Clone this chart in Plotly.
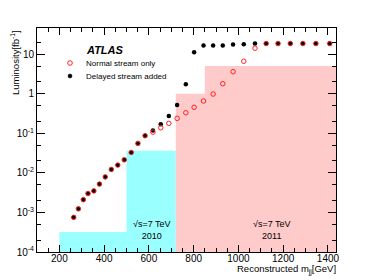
import plotly.graph_objects as go

# ---- data ----
mass = [264, 285, 307, 328, 354, 379, 405, 432, 461, 490, 521, 551, 583, 618,
        653, 689, 726, 765, 802, 844, 887, 930, 976, 1024, 1074, 1124, 1177,
        1232, 1288, 1346, 1408]
lumi_delayed = [7.5e-4, 1.23e-3, 2.1e-3, 3.0e-3, 3.5e-3, 5.2e-3, 7.9e-3, 0.0122,
                0.0157, 0.0213, 0.0328, 0.0555, 0.0865, 0.118, 0.168, 0.272,
                0.518, 1.73, 11.2, 16.4, 16.4, 16.4, 17.4, 17.8, 18.5, 18.5,
                18.5, 18.5, 18.5, 18.5, 18.5]
lumi_normal = [7.5e-4, 1.23e-3, 2.1e-3, 3.0e-3, 3.5e-3, 5.2e-3, 7.9e-3, 0.0122,
               0.0157, 0.0213, 0.0328, 0.0555, 0.0865, 0.107, 0.138, 0.178,
               0.238, 0.33, 0.453, 0.653, 0.98, 1.79, 3.6, 6.6, 14.1, 18.5,
               18.5, 18.5, 18.5, 18.5, 18.5]

# 2010 trigger-threshold luminosity steps (edges, values)
edges_2010 = [200, 500, 720]
lumi_2010 = [3.2e-4, 0.036]
# 2011 steps
edges_2011 = [720, 850, 1436]
lumi_2011 = [1.0, 5.0]

x_range = [100, 1436]
y_floor = 1e-4
y_ticks = [1e-4, 1e-3, 1e-2, 1e-1, 1, 10]
y_ticktext = ["10<sup>-4</sup>", "10<sup>-3</sup>", "10<sup>-2</sup>",
              "10<sup>-1</sup>", "1", "10"]


def step_polygon(edges, vals, floor):
    xs = [edges[0]]
    ys = [floor]
    for i, v in enumerate(vals):
        xs += [edges[i], edges[i + 1]]
        ys += [v, v]
    xs += [edges[-1], edges[0]]
    ys += [floor, floor]
    return xs, ys


FONT = "Liberation Sans, Arial, Helvetica, sans-serif"

fig = go.Figure()

x10, y10 = step_polygon(edges_2010, lumi_2010, y_floor)
fig.add_trace(go.Scatter(x=x10, y=y10, mode="lines", fill="toself",
                         fillcolor="#99ffff", line=dict(width=0),
                         hoverinfo="skip", showlegend=False))
x11, y11 = step_polygon(edges_2011, lumi_2011, y_floor)
fig.add_trace(go.Scatter(x=x11, y=y11, mode="lines", fill="toself",
                         fillcolor="#ffcaca", line=dict(width=0),
                         hoverinfo="skip", showlegend=False))

fig.add_trace(go.Scatter(x=mass, y=lumi_delayed, mode="markers",
                         name="Delayed stream added",
                         marker=dict(symbol="circle", size=4.5, color="black"),
                         showlegend=False))
fig.add_trace(go.Scatter(x=mass, y=lumi_normal, mode="markers",
                         name="Normal stream only",
                         marker=dict(symbol="circle-open", size=4.5, color="#ff2020",
                                     line=dict(width=1, color="#ff2020")),
                         showlegend=False))

# page body has an 8px default margin: shrink the figure so the plot area
# lands on the same screen pixels as the reference
OFF = 8
L, T, W, H = 37, 28, 299, 224   # plot area in window pixels


def px(xp):
    return (xp - L) / W


def py(yp):
    return (T + H - yp) / H


shapes = [
    dict(type="circle", xref="paper", yref="paper", xsizemode="pixel",
         ysizemode="pixel", xanchor=px(70), yanchor=py(63),
         x0=-2.3, x1=2.3, y0=-2.3, y1=2.3,
         line=dict(color="#ff2020", width=1), fillcolor="rgba(0,0,0,0)"),
    dict(type="circle", xref="paper", yref="paper", xsizemode="pixel",
         ysizemode="pixel", xanchor=px(70), yanchor=py(76),
         x0=-2, x1=2, y0=-2, y1=2,
         line=dict(color="black", width=0.5), fillcolor="black"),
]

annotations = [
    dict(text="<b><i>ATLAS</i></b>", x=px(84), y=py(50), xref="paper",
         yref="paper", xanchor="left", yanchor="middle", showarrow=False,
         font=dict(size=11, family=FONT, color="black")),
    dict(text="Normal stream only", x=px(84), y=py(63), xref="paper",
         yref="paper", xanchor="left", yanchor="middle", showarrow=False,
         font=dict(size=8, family=FONT, color="black")),
    dict(text="Delayed stream added", x=px(84), y=py(76), xref="paper",
         yref="paper", xanchor="left", yanchor="middle", showarrow=False,
         font=dict(size=8, family=FONT, color="black")),
    dict(text="√s=7 TeV<br>2010", x=px(152), y=py(230), xref="paper",
         yref="paper", xanchor="center", yanchor="middle", showarrow=False,
         font=dict(size=9, family=FONT, color="black")),
    dict(text="√s=7 TeV<br>2011", x=px(272), y=py(230), xref="paper",
         yref="paper", xanchor="center", yanchor="middle", showarrow=False,
         font=dict(size=9, family=FONT, color="black")),
    dict(text="Reconstructed m<sub>jj</sub>[GeV]", x=px(338), y=py(269),
         xref="paper", yref="paper", xanchor="right", yanchor="middle",
         showarrow=False, font=dict(size=9.5, family=FONT, color="black")),
    dict(text="Luminosity[fb<sup>-1</sup>]", x=px(15), y=py(62), xref="paper",
         yref="paper", xanchor="center", yanchor="middle", textangle=-90,
         showarrow=False, font=dict(size=9.5, family=FONT, color="black")),
]

fig.update_layout(
    width=374 - OFF, height=280 - OFF,
    margin=dict(l=L - OFF, r=374 - L - W, t=T - OFF, b=280 - T - H,
                autoexpand=False),
    paper_bgcolor="white", plot_bgcolor="white",
    font=dict(family=FONT, size=10, color="black"),
    showlegend=False,
    shapes=shapes, annotations=annotations,
    xaxis=dict(range=x_range, showgrid=False, zeroline=False,
               showline=True, linecolor="black", linewidth=1, mirror="ticks",
               ticks="inside", ticklen=7, tickcolor="black", dtick=200,
               tick0=0, tickfont=dict(size=10, family=FONT),
               ticklabelstandoff=-3,
               minor=dict(ticks="inside", ticklen=4, dtick=50,
                          tickcolor="black", showgrid=False)),
    yaxis=dict(type="log", range=[-4, 1.66], showgrid=False, zeroline=False,
               showline=True, linecolor="black", linewidth=1, mirror="ticks",
               ticks="inside", ticklen=8, tickcolor="black",
               tickvals=y_ticks, ticktext=y_ticktext,
               tickfont=dict(size=10, family=FONT),
               minor=dict(ticks="inside", ticklen=4, tickcolor="black",
                          showgrid=False)),
)

fig.write_html("out.html")
